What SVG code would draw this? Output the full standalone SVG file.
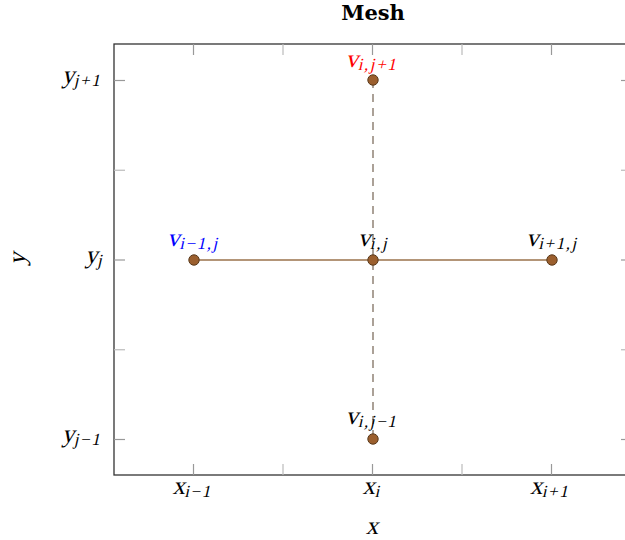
<svg xmlns="http://www.w3.org/2000/svg" width="625" height="540" viewBox="0 0 625 540">
<style>
.m{font-family:"Liberation Serif","Times New Roman",serif;font-style:normal;font-size:25px;fill:#000}
.s{font-size:17px;letter-spacing:1.6px}
.ax{fill:none;stroke:#333;stroke-width:1.3}
.tk{stroke:#999;stroke-width:1.2}
.tm{stroke:#bbb;stroke-width:1.2}
.dot{fill:#9b5f2e;stroke:#5a3a1c;stroke-width:1}
.title{font-family:"DejaVu Serif","Liberation Serif",serif;font-weight:bold;font-size:21px;fill:#000}
</style>
<rect width="625" height="540" fill="#fff"/>
<text class="title" x="373" y="20" text-anchor="middle">Mesh</text>
<g id="axis">
<rect class="ax" x="114" y="44" width="518" height="431"/>
<g class="tk">
<line x1="193.5" y1="475" x2="193.5" y2="464"/><line x1="372.5" y1="475" x2="372.5" y2="464"/><line x1="551.5" y1="475" x2="551.5" y2="464"/>
<line x1="193.5" y1="44" x2="193.5" y2="55"/><line x1="372.5" y1="44" x2="372.5" y2="55"/><line x1="551.5" y1="44" x2="551.5" y2="55"/>
<line x1="114" y1="80.5" x2="125" y2="80.5"/><line x1="114" y1="260" x2="125" y2="260"/><line x1="114" y1="439.5" x2="125" y2="439.5"/>
<line x1="632" y1="80.5" x2="621" y2="80.5"/><line x1="632" y1="260" x2="621" y2="260"/><line x1="632" y1="439.5" x2="621" y2="439.5"/>
</g>
<g class="tm">
<line x1="283" y1="475" x2="283" y2="464"/><line x1="462" y1="475" x2="462" y2="464"/>
<line x1="283" y1="44" x2="283" y2="55"/><line x1="462" y1="44" x2="462" y2="55"/>
<line x1="114" y1="170.25" x2="125" y2="170.25"/><line x1="114" y1="349.75" x2="125" y2="349.75"/>
<line x1="632" y1="170.25" x2="621" y2="170.25"/><line x1="632" y1="349.75" x2="621" y2="349.75"/>
</g>
<text class="m" transform="translate(192.5,494) skewX(-13)" text-anchor="middle">x<tspan class="s" dy="3">i−1</tspan></text>
<text class="m" transform="translate(372,494) skewX(-13)" text-anchor="middle">x<tspan class="s" dy="3">i</tspan></text>
<text class="m" transform="translate(550,494) skewX(-13)" text-anchor="middle">x<tspan class="s" dy="3">i+1</tspan></text>
<text class="m" transform="translate(102,83) skewX(-13)" text-anchor="end">y<tspan class="s" dy="3">j+1</tspan></text>
<text class="m" transform="translate(104,263) skewX(-13)" text-anchor="end">y<tspan class="s" dy="3">j</tspan></text>
<text class="m" transform="translate(102,442) skewX(-13)" text-anchor="end">y<tspan class="s" dy="3">j−1</tspan></text>
<text class="m" transform="translate(372,534) skewX(-13)" text-anchor="middle">x</text>
<text class="m" transform="translate(25,259) rotate(-90) skewX(-13)" text-anchor="middle">y</text>
</g>
<g id="connectors">
<line x1="194" y1="260" x2="552" y2="260" stroke="#b39578" stroke-width="1.8"/>
<line x1="373" y1="80" x2="373" y2="439" stroke="#7f6f60" stroke-width="1.3" stroke-dasharray="8 6"/>
</g>
<g id="v_i_jp1">
<circle class="dot" cx="373" cy="80" r="5.2"/>
<text class="m" transform="translate(372,67) skewX(-13)" text-anchor="middle" style="fill:#ff0000">v<tspan class="s" dy="3">i,j+1</tspan></text>
</g>
<g id="v_im1_j">
<circle class="dot" cx="194" cy="260" r="5.2"/>
<text class="m" transform="translate(193.5,246) skewX(-13)" text-anchor="middle" style="fill:#0000ff">v<tspan class="s" dy="3">i−1,j</tspan></text>
</g>
<g id="v_i_j">
<circle class="dot" cx="373" cy="260" r="5.2"/>
<text class="m" transform="translate(373.5,246) skewX(-13)" text-anchor="middle">v<tspan class="s" dy="3">i,j</tspan></text>
</g>
<g id="v_ip1_j">
<circle class="dot" cx="552" cy="260" r="5.2"/>
<text class="m" transform="translate(552.5,246) skewX(-13)" text-anchor="middle">v<tspan class="s" dy="3">i+1,j</tspan></text>
</g>
<g id="v_i_jm1">
<circle class="dot" cx="373" cy="439" r="5.2"/>
<text class="m" transform="translate(372,424) skewX(-13)" text-anchor="middle">v<tspan class="s" dy="3">i,j−1</tspan></text>
</g>
</svg>
